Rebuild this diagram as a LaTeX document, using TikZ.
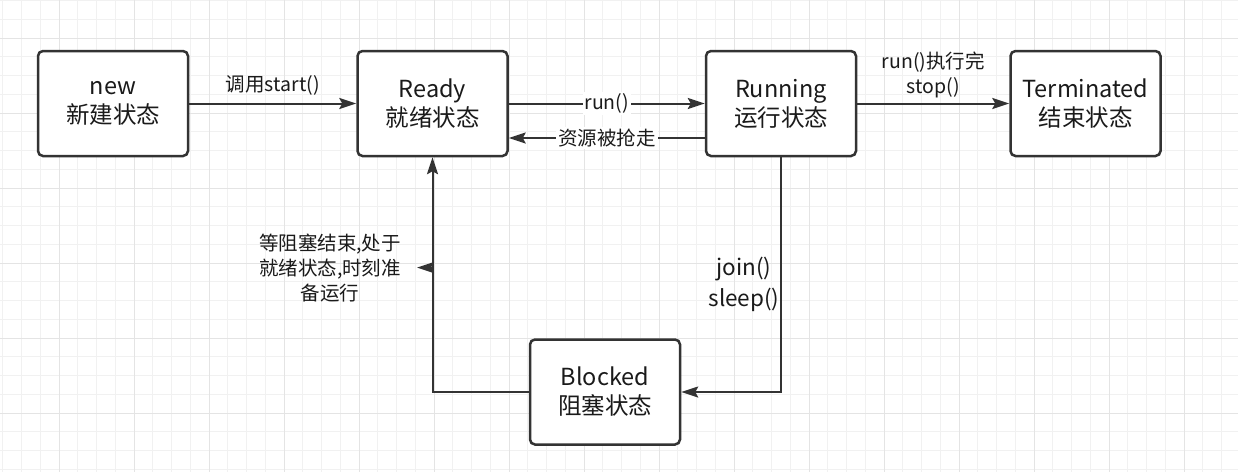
\documentclass[tikz,border=0pt]{standalone}
\usepackage{fontspec}
\setmainfont{Noto Sans CJK SC}
\usetikzlibrary{arrows.meta,positioning}
\definecolor{lineclr}{HTML}{333333}
\definecolor{txtclr}{HTML}{1A1A1A}
\definecolor{gridminor}{HTML}{F1F1F1}
\definecolor{gridmajor}{HTML}{E4E4E4}

\begin{document}
\begin{tikzpicture}[x=1pt, y=-1pt,
      st/.style={draw=lineclr, line width=2.5pt, fill=white, rounded corners=5pt,
                 minimum width=150pt, minimum height=105pt, text=txtclr,
                 font=\fontsize{23.5}{29}\selectfont, align=center},
      lbl/.style={text=txtclr, font=\fontsize{19.5}{25}\selectfont,
                  align=center, inner sep=2pt},
      arr/.style={-{Stealth[length=17pt, width=11pt, inset=3pt]},
                  line width=2pt, color=lineclr}
  ]
    \useasboundingbox (0,0) rectangle (1238,472);
    \fill[white] (0,0) rectangle (1238,472);
    \foreach \i in {0,...,65}
      \draw[gridminor, line width=1pt] ({2.75+18.75*\i},0) -- ({2.75+18.75*\i},472);
    \foreach \i in {0,...,25}
      \draw[gridminor, line width=1pt] (0,{0.5+18.75*\i}) -- (1238,{0.5+18.75*\i});
    \foreach \i in {0,...,15}
      \draw[gridmajor, line width=1pt] ({59+75*\i},0) -- ({59+75*\i},472);
    \foreach \i in {0,...,5}
      \draw[gridmajor, line width=1pt] (0,{38+75*\i}) -- (1238,{38+75*\i});

    \node[st] (new) at (113,103.5) {new\\新建状态};
    \node[st, right=167pt of new]   (ready) {Ready\\就绪状态};
    \node[st, right=196pt of ready] (run)   {Running\\运行状态};
    \node[st, right=152pt of run]   (term)  {Terminated\\结束状态};
    \node[st] (blk) at (605,392) {Blocked\\阻塞状态};

    \draw[arr] (new) -- node[lbl, above=5pt] {调用start()} (ready);
    \draw[arr] (ready) -- node[lbl, fill=white] {run()} (run);
    \draw[arr] ([yshift=-34.5pt]run.west) -- node[lbl, fill=white] {资源被抢走} ([yshift=-34.5pt]ready.east);
    \draw[arr] (run) -- node[lbl, above=3pt] {run()执行完\\stop()} (term);
    \draw[arr] (run) |- node[lbl, pos=0.27, xshift=-37pt, font=\fontsize{22.5}{31}\selectfont] {join()\\sleep()} (blk);
    \draw[arr] (blk) -| coordinate[pos=0.765] (mk)
      node[lbl, pos=0.765, xshift=-102.5pt] (wait) {等阻塞结束,处于\\就绪状态,时刻准\\备运行} (ready);
    \coordinate[left=15.5pt of mk] (mktip);
    \draw[arr] (mk) -- (mktip);
  \end{tikzpicture}
\end{document}
